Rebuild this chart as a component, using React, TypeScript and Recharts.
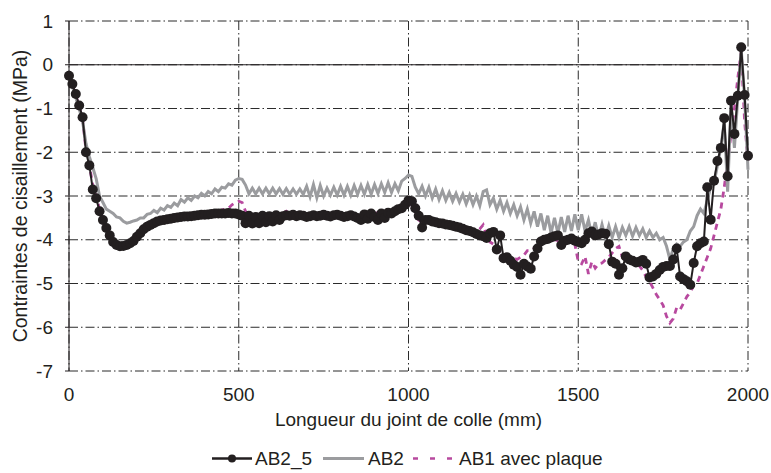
import React from 'react';
import {
    LineChart,
    Line,
    XAxis,
    YAxis,
    CartesianGrid,
    ReferenceLine
} from 'recharts';

// abscissa along the glue joint (mm), one sample every 10 mm
const POSITIONS = [
    0, 10, 20, 30, 40, 50, 60, 70, 80, 90,
    100, 110, 120, 130, 140, 150, 160, 170, 180, 190,
    200, 210, 220, 230, 240, 250, 260, 270, 280, 290,
    300, 310, 320, 330, 340, 350, 360, 370, 380, 390,
    400, 410, 420, 430, 440, 450, 460, 470, 480, 490,
    500, 510, 520, 530, 540, 550, 560, 570, 580, 590,
    600, 610, 620, 630, 640, 650, 660, 670, 680, 690,
    700, 710, 720, 730, 740, 750, 760, 770, 780, 790,
    800, 810, 820, 830, 840, 850, 860, 870, 880, 890,
    900, 910, 920, 930, 940, 950, 960, 970, 980, 990,
    1000, 1010, 1020, 1030, 1040, 1050, 1060, 1070, 1080, 1090,
    1100, 1110, 1120, 1130, 1140, 1150, 1160, 1170, 1180, 1190,
    1200, 1210, 1220, 1230, 1240, 1250, 1260, 1270, 1280, 1290,
    1300, 1310, 1320, 1330, 1340, 1350, 1360, 1370, 1380, 1390,
    1400, 1410, 1420, 1430, 1440, 1450, 1460, 1470, 1480, 1490,
    1500, 1510, 1520, 1530, 1540, 1550, 1560, 1570, 1580, 1590,
    1600, 1610, 1620, 1630, 1640, 1650, 1660, 1670, 1680, 1690,
    1700, 1710, 1720, 1730, 1740, 1750, 1760, 1770, 1780, 1790,
    1800, 1810, 1820, 1830, 1840, 1850, 1860, 1870, 1880, 1890,
    1900, 1910, 1920, 1930, 1940, 1950, 1960, 1970, 1980, 1990,
    2000
];

const AB2_5 = [
    -0.25, -0.44, -0.67, -0.93, -1.2, -2.0, -2.3, -2.85, -3.05, -3.35,
    -3.55, -3.73, -3.9, -4.05, -4.12, -4.15, -4.14, -4.12, -4.08, -4.03,
    -3.93, -3.85, -3.76, -3.7, -3.66, -3.62, -3.58, -3.56, -3.55, -3.53,
    -3.52, -3.5, -3.49, -3.48, -3.47, -3.47, -3.46, -3.45, -3.44, -3.43,
    -3.43, -3.42, -3.41, -3.4, -3.4, -3.4, -3.4, -3.39, -3.4, -3.4,
    -3.42, -3.45, -3.62, -3.45, -3.63, -3.48, -3.62, -3.45, -3.6, -3.46,
    -3.58, -3.44, -3.55, -3.46, -3.44, -3.45, -3.43, -3.46, -3.44, -3.45,
    -3.48, -3.46, -3.44, -3.46, -3.45, -3.43, -3.45, -3.47, -3.44, -3.43,
    -3.45, -3.48, -3.46, -3.44, -3.47, -3.5, -3.55, -3.42, -3.52, -3.4,
    -3.48, -3.55, -3.4, -3.5, -3.38, -3.4, -3.35, -3.3, -3.28, -3.2,
    -3.1, -3.12, -3.28, -3.45, -3.72, -3.55, -3.55, -3.58, -3.6, -3.62,
    -3.63, -3.65, -3.66, -3.68, -3.7, -3.72, -3.75, -3.78, -3.8, -3.83,
    -3.87, -3.9, -3.92, -3.96, -3.85, -3.82, -4.22, -3.9, -4.42, -4.4,
    -4.48, -4.57, -4.62, -4.8, -4.55, -4.61, -4.66, -4.38, -4.2, -4.04,
    -4.0, -3.98, -3.95, -3.92, -3.9, -4.12, -4.02, -4.0, -3.97, -4.02,
    -4.05, -4.08, -4.0, -3.85, -3.81, -3.9, -3.88, -3.85, -3.86, -4.1,
    -4.5, -4.55, -4.8, -4.65, -4.38, -4.45, -4.48, -4.52, -4.5, -4.46,
    -4.55, -4.86, -4.84, -4.78, -4.69, -4.62, -4.6, -4.6, -4.45, -4.2,
    -4.84, -4.9, -4.95, -5.03, -4.53, -4.15, -4.08, -4.04, -2.8, -3.54,
    -2.65, -2.2, -1.9, -1.22, -2.55, -0.82, -1.58, -0.71, 0.4, -0.69,
    -2.08
];

const AB2 = [
    -0.3, -0.5, -0.75, -1.0, -1.3, -1.8, -2.1, -2.35, -2.6, -3.0,
    -3.15, -3.3, -3.35, -3.4, -3.48, -3.5, -3.58, -3.62, -3.6, -3.57,
    -3.55, -3.5, -3.5, -3.42, -3.4, -3.33, -3.38, -3.28, -3.32, -3.22,
    -3.26, -3.16, -3.22, -3.08, -3.14, -3.04, -3.1, -3.0, -3.04, -2.94,
    -3.0, -2.9, -2.95, -2.84, -2.9, -2.8, -2.82, -2.72, -2.75, -2.64,
    -2.6, -2.62, -2.75, -2.95, -2.82, -2.95, -2.82, -2.95, -2.82, -2.95,
    -2.82, -2.95, -2.83, -2.96, -2.83, -2.96, -2.84, -2.96, -2.84, -2.96,
    -2.78, -3.02, -2.74, -3.04, -2.76, -3.0, -2.82, -2.98, -2.8, -2.98,
    -2.78, -2.98, -2.78, -2.98, -2.76, -2.96, -2.76, -2.96, -2.74, -2.96,
    -2.74, -2.94, -2.72, -2.92, -2.7, -2.92, -2.72, -2.88, -2.66, -2.6,
    -2.52, -2.55, -2.8, -2.95, -2.78, -3.0, -2.8, -3.05, -2.84, -3.08,
    -2.88, -3.1, -2.92, -3.12, -2.94, -3.14, -2.96, -3.18, -2.98, -3.2,
    -3.0, -3.22, -2.9, -2.86, -3.2, -3.05, -3.3, -3.1, -3.35, -3.15,
    -3.4, -3.2, -3.45, -3.25, -3.55, -3.3, -3.62, -3.35, -3.7, -3.4,
    -3.78, -3.45, -3.85, -3.5, -3.85, -3.48, -3.82, -3.45, -3.8, -3.42,
    -3.78, -3.42, -3.8, -3.55, -3.9, -3.6, -3.95, -3.65, -3.95, -3.68,
    -3.95, -3.7, -3.95, -3.72, -3.9, -3.7, -3.92, -3.72, -3.9, -3.75,
    -3.95, -3.8, -3.95, -3.85, -4.0, -3.95, -4.15, -4.45, -4.2, -4.1,
    -4.15, -4.05, -4.0, -3.8, -3.7, -3.45, -3.3, -3.4, -3.1, -2.8,
    -2.7, -2.3, -1.9, -1.3, -2.9, -0.9, -1.9, -0.75, 0.35, -0.75,
    -2.4
];

const AB1 = [
    -0.25, -0.45, -0.7, -0.95, -1.25, -1.95, -2.3, -2.75, -3.0, -3.3,
    -3.55, -3.72, -3.85, -3.98, -4.05, -4.1, -4.1, -4.08, -4.05, -4.0,
    -3.92, -3.84, -3.76, -3.7, -3.66, -3.62, -3.58, -3.56, -3.54, -3.52,
    -3.51, -3.5, -3.49, -3.48, -3.47, -3.46, -3.45, -3.44, -3.43, -3.42,
    -3.41, -3.4, -3.38, -3.36, -3.34, -3.32, -3.3, -3.28, -3.2, -3.15,
    -3.12, -3.15, -3.35, -3.45, -3.5, -3.52, -3.52, -3.5, -3.5, -3.48,
    -3.47, -3.45, -3.45, -3.4, -3.35, -3.42, -3.42, -3.4, -3.43, -3.41,
    -3.4, -3.42, -3.38, -3.42, -3.4, -3.42, -3.4, -3.38, -3.41, -3.36,
    -3.35, -3.42, -3.4, -3.38, -3.43, -3.45, -3.4, -3.42, -3.38, -3.4,
    -3.4, -3.38, -3.36, -3.37, -3.35, -3.35, -3.33, -3.3, -3.3, -3.25,
    -3.2, -3.2, -3.35, -3.55, -3.6, -3.55, -3.56, -3.57, -3.57, -3.58,
    -3.58, -3.6, -3.62, -3.64, -3.66, -3.68, -3.7, -3.72, -3.75, -3.78,
    -3.8, -3.75, -3.66, -3.9, -4.05, -4.1, -4.2, -4.28, -4.32, -4.35,
    -4.38, -4.42, -4.45, -4.4, -4.35, -4.25, -4.25, -4.2, -4.15, -4.1,
    -4.05, -4.02, -4.0, -4.0, -4.02, -4.03, -4.03, -4.02, -4.05, -4.1,
    -4.5, -4.55, -4.38, -4.78, -4.5, -4.65, -4.55, -4.53, -4.46, -4.4,
    -4.3, -4.2, -4.15, -4.4, -4.45, -4.5, -4.5, -4.55, -4.6, -4.7,
    -4.85, -4.95, -5.1, -5.25, -5.37, -5.5, -5.75, -5.9, -5.8, -5.55,
    -5.6, -5.45, -5.3, -5.2, -5.05, -5.0, -4.8, -4.6, -4.4, -4.2,
    -3.9, -3.6, -3.3, -2.8, -2.2, -1.6, -1.0, -0.3, 0.3, -1.3,
    -2.2
];

const X_TICKS = [0, 500, 1000, 1500, 2000];
const Y_TICKS = [1, 0, -1, -2, -3, -4, -5, -6, -7];

const data = POSITIONS.map((x, i) => ({
    x,
    ab25: AB2_5[i],
    ab2: AB2[i],
    ab1: AB1[i]
}));

const FONT = '"Liberation Sans", Arial, Helvetica, sans-serif';
const INK = '#231f20';
const GRAY = '#9b9c9f';
const MAGENTA = '#b8499f';
const GRID_DASH = '9 3 1.5 3';

function ChartLegend() {
    const cy = 15.5;
    return (
        <svg width={771} height={30} style={{ position: 'absolute', left: 0, top: 443, fontFamily: FONT }}>
            <line x1={212} y1={cy} x2={252} y2={cy} stroke={INK} strokeWidth={2.5} />
            <circle cx={232} cy={cy} r={4} fill={INK} />
            <text x={255} y={cy + 6.5} fontSize={19} fill={INK}>AB2_5</text>
            <line x1={323} y1={cy} x2={364} y2={cy} stroke={GRAY} strokeWidth={3} />
            <text x={368} y={cy + 6.5} fontSize={19} fill={INK}>AB2</text>
            <line x1={413} y1={cy} x2={457} y2={cy} stroke={MAGENTA} strokeWidth={2.5} strokeDasharray="5 12" />
            <text x={459} y={cy + 6.5} fontSize={19} fill={INK}>AB1 avec plaque</text>
        </svg>
    );
}

export default function App() {
    return (
        <div style={{ position: 'absolute', left: 0, top: 0, width: 771, height: 473, background: '#fff', fontFamily: FONT }}>
            <LineChart
                width={771}
                height={473}
                data={data}
                margin={{ top: 21, right: 23, bottom: 72, left: 0 }}
            >
                <CartesianGrid
                    stroke="#2b2b2b"
                    strokeWidth={1}
                    strokeDasharray={GRID_DASH}
                />
                <XAxis
                    dataKey="x"
                    type="number"
                    domain={[0, 2000]}
                    ticks={X_TICKS}
                    height={30}
                    axisLine={false}
                    tickLine={false}
                    tickSize={6}
                    tickMargin={11}
                    tick={{ fill: INK, fontSize: 19 }}
                    label={{ value: 'Longueur du joint de colle (mm)', position: 'bottom', offset: 12, fill: INK, fontSize: 19 }}
                />
                <YAxis
                    type="number"
                    domain={[-7, 1]}
                    ticks={Y_TICKS}
                    width={69}
                    axisLine={{ stroke: INK, strokeWidth: 1 }}
                    tickLine={{ stroke: INK, strokeWidth: 1 }}
                    tickSize={4}
                    tickMargin={12}
                    tick={{ fill: INK, fontSize: 19 }}
                    label={{
                        value: 'Contraintes de cisaillement (MPa)',
                        angle: -90,
                        position: 'insideLeft',
                        offset: 20,
                        fill: INK,
                        fontSize: 19.5,
                        style: { textAnchor: 'middle' }
                    }}
                />
                <ReferenceLine y={0} stroke={INK} strokeWidth={1} />
                <Line
                    type="linear"
                    dataKey="ab1"
                    stroke={MAGENTA}
                    strokeWidth={2.8}
                    strokeDasharray="6 5"
                    dot={false}
                    activeDot={false}
                    isAnimationActive={false}
                />
                <Line
                    type="linear"
                    dataKey="ab2"
                    stroke={GRAY}
                    strokeWidth={3}
                    dot={false}
                    activeDot={false}
                    isAnimationActive={false}
                />
                <Line
                    type="linear"
                    dataKey="ab25"
                    stroke={INK}
                    strokeWidth={2}
                    dot={{ r: 5, fill: INK, stroke: INK, strokeWidth: 0 }}
                    activeDot={false}
                    isAnimationActive={false}
                />
            </LineChart>
            <ChartLegend />
        </div>
    );
}
